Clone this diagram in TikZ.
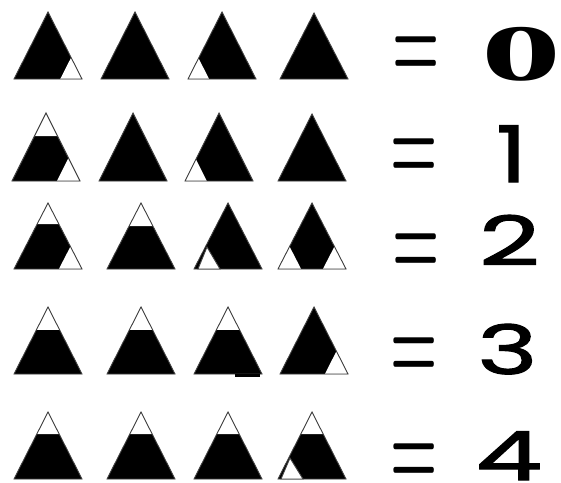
\documentclass[tikz,border=0pt]{standalone}
\usepackage{fontspec}
\usetikzlibrary{calc}
\newfontfamily\digfont{Poppins}[FakeBold=1.6]
\newfontfamily\ofont{Liberation Serif}
\newcommand\mtri[4]{% name, cx, apex y, base y (half width 34)
  \coordinate (#1a) at (#2,#3);
  \coordinate (#1l) at (#2-34,#4);
  \coordinate (#1r) at (#2+34,#4);
  \fill[black] (#1a)--(#1l)--(#1r)--cycle;}
\newcommand\wtop[2]{\fill[white] (#1a) -- ($(#1a)!#2!(#1l)$) -- ($(#1a)!#2!(#1r)$) -- cycle;}
\newcommand\wright[2]{\fill[white] (#1r) -- ($(#1r)!#2!(#1l)$) -- ($(#1r)!#2!(#1a)$) -- cycle;}
\newcommand\wleft[2]{\fill[white] (#1l) -- ($(#1l)!#2!(#1r)$) -- ($(#1l)!#2!(#1a)$) -- cycle;}
\newcommand\tedge[1]{\draw[outline] (#1a)--(#1l)--(#1r)--cycle;}
\tikzset{
  outline/.style={draw=black!75, line width=0.9pt, line join=miter},
  eqsign/.style={inner sep=0pt, anchor=base, font=\bfseries\fontsize{108}{108}\selectfont},
  digit/.style={inner sep=0pt, anchor=base, font=\digfont\fontsize{68}{68}\selectfont},
}
\begin{document}
\begin{tikzpicture}[x=1pt,y=-1pt]
\useasboundingbox[fill=white] (0,0) rectangle (561,482);
% Row 1
\mtri{A}{48}{12}{79}\wright{A}{0.32}\tedge{A}
\mtri{B}{135}{12}{79}\tedge{B}
\mtri{C}{222}{12}{79}\wleft{C}{0.31}\tedge{C}
\mtri{D}{314}{13}{79}\tedge{D}
% Row 2
\mtri{E}{46}{113}{181}\wtop{E}{0.34}\wright{E}{0.34}\tedge{E}
\mtri{F}{133}{113}{181}\tedge{F}
\mtri{G}{219}{113}{181}\wleft{G}{0.32}\tedge{G}
\mtri{H}{312}{114}{181}\tedge{H}
% Row 3
\mtri{I}{48}{203}{269}\wtop{I}{0.32}\wright{I}{0.34}\tedge{I}
\mtri{J}{141}{203}{269}\wtop{J}{0.35}\tedge{J}
\mtri{K}{228}{203}{269}\tedge{K}
\coordinate (Kw1) at (198,269);\coordinate (Kw2) at (220,269);\coordinate (Kw3) at (207,247);
\filldraw[fill=white,outline] (Kw1)--(Kw2)--(Kw3)--cycle;
\mtri{L}{312}{203}{269}\wleft{L}{0.34}\wright{L}{0.34}\tedge{L}
% Row 4
\mtri{M}{48}{307}{374}\wtop{M}{0.34}\tedge{M}
\mtri{N}{141}{307}{374}\wtop{N}{0.34}\tedge{N}
\mtri{O}{228}{307}{374}\wtop{O}{0.34}\tedge{O}
\coordinate (Ob1) at (235,374);\coordinate (Ob2) at (260,377);
\fill[black] (Ob1) rectangle (Ob2);
\mtri{P}{314}{307}{374}\wright{P}{0.34}\tedge{P}
% Row 5
\mtri{Q}{48}{412}{479}\wtop{Q}{0.33}\tedge{Q}
\mtri{R}{141}{412}{479}\wtop{R}{0.33}\tedge{R}
\mtri{S}{228}{412}{479}\wtop{S}{0.33}\tedge{S}
\mtri{T}{312}{412}{479}\wtop{T}{0.33}\tedge{T}
\coordinate (Tw1) at (281,479);\coordinate (Tw2) at (303,479);\coordinate (Tw3) at (290,458);
\filldraw[fill=white,outline] (Tw1)--(Tw2)--(Tw3)--cycle;
% Text
\node[eqsign] (eq0) at (416,78) {\scalebox{0.5}[1]{=}};
\node[eqsign] (eq1) at (414.5,180) {\scalebox{0.5}[1]{=}};
\node[eqsign] (eq2) at (416,275) {\scalebox{0.5}[1]{=}};
\node[eqsign] (eq3) at (414,379) {\scalebox{0.5}[1]{=}};
\node[eqsign] (eq4) at (414,485) {\scalebox{0.5}[1]{=}};
\node[inner sep=0pt, anchor=base, font=\ofont\bfseries\fontsize{80}{80}\selectfont] (n0) at (521.5,80) {\scalebox{2.0}[1]{0}};
\node[digit] (n1) at (511.5,182) {\scalebox{1.4}[1.15]{1}};
\node[digit] (n2) at (509.5,265) {\scalebox{1.55}[1]{2}};
\node[digit] (n3) at (507.5,374) {\scalebox{1.5}[1]{3}};
\node[digit] (n4) at (509,480) {\scalebox{1.55}[1]{4}};
\end{tikzpicture}
\end{document}
